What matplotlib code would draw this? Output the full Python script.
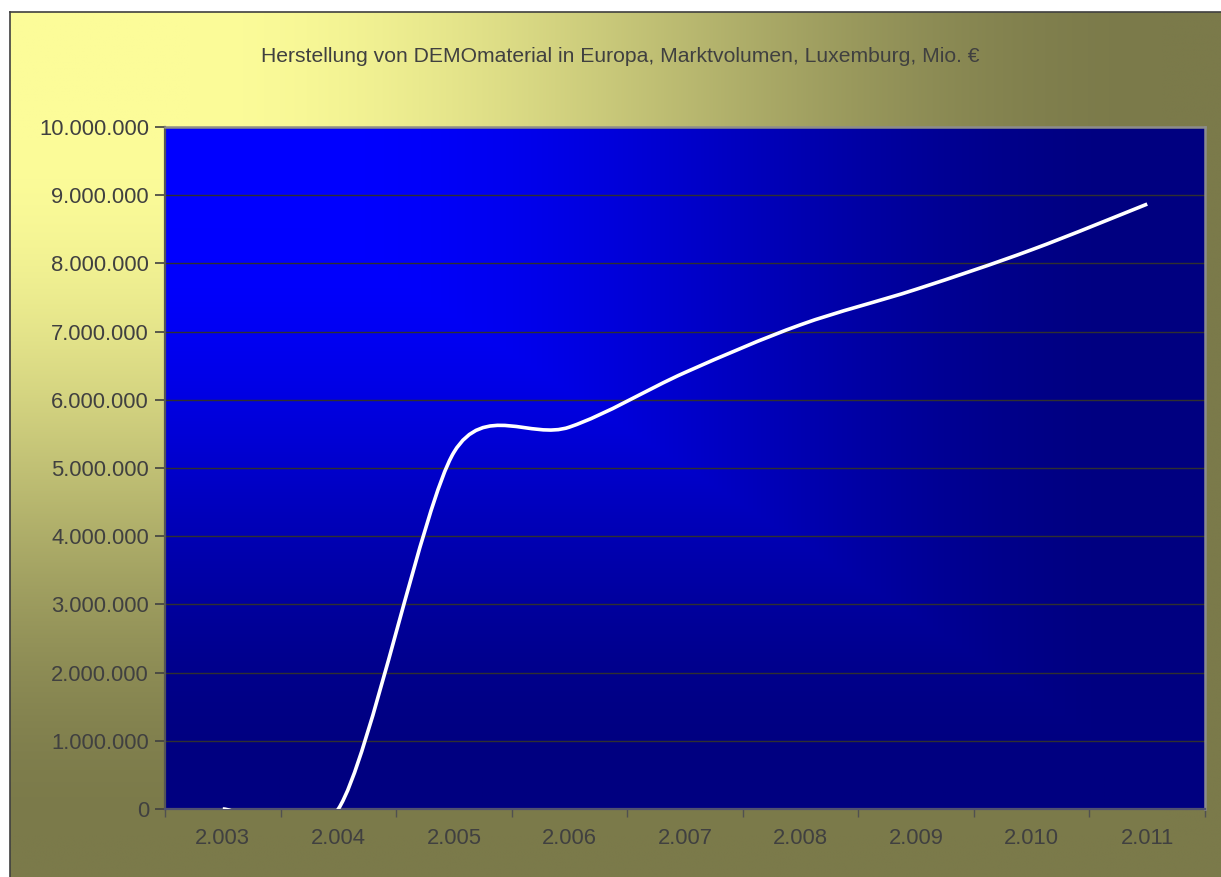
import numpy as np
import matplotlib
matplotlib.use("Agg")
import matplotlib.pyplot as plt
from matplotlib.path import Path
from matplotlib.patches import PathPatch
from matplotlib.lines import Line2D
from matplotlib.ticker import FuncFormatter, FixedLocator

plt.rcParams['font.family'] = ['Liberation Sans', 'DejaVu Sans']

# data
years = ["2.003", "2.004", "2.005", "2.006", "2.007", "2.008", "2.009", "2.010", "2.011"]
volume = [0, 0, 5230000, 5600000, 6400000, 7100000, 7620000, 8200000, 8870000]

title = "Herstellung von DEMOmaterial in Europa, Marktvolumen, Luxemburg, Mio. €"
text_col = "#404040"

W, H = 1221, 877
left, right, top, bottom = 165, 1205, 127, 809
y_max = 10000000


def corner_gradient(light, dark, nx=400, ny=300):
    # "from corner" fill as in office charts: brightest at top-left
    u = np.linspace(0, 1, nx)[None, :]
    v = np.linspace(0, 1, ny)[:, None]
    m = np.maximum(u, v)
    t = np.clip((m - 0.15) / 0.8, 0, 1)
    s = 3 * t ** 2 - 2 * t ** 3
    light = np.array(light) / 255.0
    dark = np.array(dark) / 255.0
    return light[None, None, :] * (1 - s[..., None]) + dark[None, None, :] * s[..., None]


def smooth_path(xs, ys, sx, sy):
    # bezier smoothing like a spreadsheet "smoothed line", worked out in pixel space
    pts = np.column_stack([np.asarray(xs) * sx, np.asarray(ys) * sy]).astype(float)
    n = len(pts)
    fwd, back = [], []
    for i in range(n):
        p0 = pts[max(i - 1, 0)]
        p1 = pts[i]
        p2 = pts[min(i + 1, n - 1)]
        tan = p2 - p0
        d02 = np.hypot(*tan)
        d01 = np.hypot(*(p1 - p0))
        d12 = np.hypot(*(p2 - p1))
        f = 1 / 6
        if 0 < i < n - 1 and (d02 / 6 > d01 / 2 or d02 / 6 > d12 / 2):
            f = min(d01, d12) / (2 * d02)
        fwd.append(p1 + tan * f)
        back.append(p1 - tan * f)
    verts = [pts[0]]
    codes = [Path.MOVETO]
    for i in range(n - 1):
        verts += [fwd[i], back[i + 1], pts[i + 1]]
        codes += [Path.CURVE4] * 3
    verts = np.array(verts) / [sx, sy]
    return Path(verts, codes)


fig = plt.figure(figsize=(W / 100, H / 100), dpi=100)
fig.patch.set_facecolor("white")

# chart area background
bg = fig.add_axes([10 / W, 0, 1 - 10 / W, 1 - 12 / H])
bg.imshow(corner_gradient((252, 252, 153), (123, 122, 74)), aspect="auto",
          extent=(0, 1, 0, 1))
bg.set_axis_off()
fig.add_artist(Line2D([10 / W, 10 / W], [0, 1 - 12 / H], color="#404040", lw=1.2))
fig.add_artist(Line2D([10 / W, 1], [1 - 12 / H, 1 - 12 / H], color="#404040", lw=1.2))

fig.text(620 / W, 1 - 57 / H, title, ha="center", va="center",
         fontsize=15.2, color=text_col)

# plot area
ax = fig.add_axes([left / W, 1 - bottom / H, (right - left) / W, (bottom - top) / H])
ax.patch.set_visible(False)
ax.imshow(corner_gradient((0, 0, 255), (0, 0, 128)), aspect="auto",
          extent=(0, 1, 0, 1), transform=ax.transAxes, zorder=0)

x = np.arange(len(years))
sx = (right - left) / len(years)
sy = (bottom - top) / y_max
ax.add_patch(PathPatch(smooth_path(x, volume, sx, sy), facecolor="none",
                       edgecolor="white", lw=2.6, capstyle="butt", zorder=3))

ax.set_xlim(-0.5, len(years) - 0.5)
ax.set_ylim(0, y_max)

ax.xaxis.set_major_locator(FixedLocator(np.arange(len(years) + 1) - 0.5))
ax.xaxis.set_minor_locator(FixedLocator(x))
ax.set_xticklabels([], minor=False)
ax.set_xticklabels(years, minor=True)
ax.tick_params(axis="x", which="major", length=6, width=1, color="#505050", direction="out")
ax.tick_params(axis="x", which="minor", length=0, pad=14, labelsize=15.8, labelcolor=text_col)

ax.set_yticks(np.arange(0, y_max + 1, 1000000))
ax.yaxis.set_major_formatter(FuncFormatter(lambda v, p: f"{int(v):,}".replace(",", ".")))
ax.tick_params(axis="y", length=7, width=1.2, color="#404040", pad=4.5,
               labelsize=15.8, labelcolor=text_col)

ax.grid(axis="y", color="#303030", lw=1)
ax.set_axisbelow(True)

ax.spines["left"].set_color("#555555")
ax.spines["left"].set_linewidth(1.6)
ax.spines["bottom"].set_color("#505070")
ax.spines["bottom"].set_linewidth(1.6)
ax.spines["top"].set_color("#8c8c8c")
ax.spines["top"].set_linewidth(1.8)
ax.spines["right"].set_color("#8c8c8c")
ax.spines["right"].set_linewidth(1.8)

fig.savefig("out.png", dpi=100)
